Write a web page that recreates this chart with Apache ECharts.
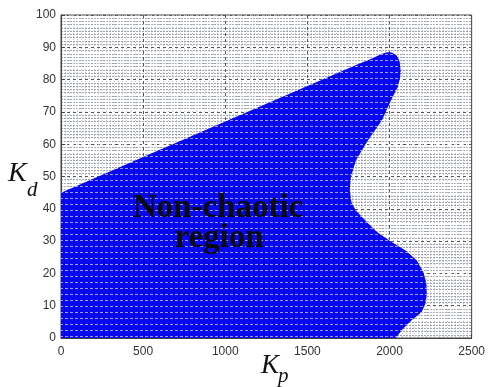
<!DOCTYPE html>
<html>
<head>
<meta charset="utf-8">
<script src="https://cdn.jsdelivr.net/npm/echarts@6/dist/echarts.min.js"></script>
<style>
  html, body { margin: 0; padding: 0; background: #fff; }
  #chart { width: 488px; height: 387px; }
</style>
</head>
<body>
<div id="chart"></div>
<script>
// boundary of the non-chaotic region
// upper-left edge, going from Kp = 0 to the tip
var upperKp = [0, 0, 500, 1000, 1500, 1800, 1900, 1950, 1985, 2015];
var upperKd = [0, 45, 56, 67, 78, 84.6, 86.7, 87.9, 88.5, 88.4];
// right edge, going from the tip down to Kd = 0
var rightKp = [2045, 2062, 2068, 2062, 2048, 2010, 1955, 1870, 1796, 1765, 1758, 1768, 1795, 1850, 1920, 1996, 2100, 2166, 2205, 2224, 2227, 2218, 2195, 2136, 2075, 2039];
var rightKd = [87.4, 85.5, 82.5, 80, 77.5, 73.7, 67.5, 61.3, 55, 50, 46, 42, 39.5, 36.5, 33, 30.3, 27, 24, 20.5, 17, 13.5, 10.5, 8, 5.6, 2.5, 0];

var xTicks = [0, 500, 1000, 1500, 2000, 2500];
var yTicks = [0, 10, 20, 30, 40, 50, 60, 70, 80, 90, 100];

var region = [];
for (var i = 0; i < upperKp.length; i++) region.push([upperKp[i], upperKd[i]]);
for (var j = 0; j < rightKp.length; j++) region.push([rightKp[j], rightKd[j]]);

// blue fill with faint light rows, like the scattered grid points
var pat = document.createElement('canvas');
pat.width = 5; pat.height = 6;
var ctx = pat.getContext('2d');
ctx.fillStyle = '#0808ee';
ctx.fillRect(0, 0, 5, 6);
ctx.fillStyle = 'rgba(170,170,255,0.9)';
ctx.fillRect(0, 0, 3, 1);

var myChart = echarts.init(document.getElementById('chart'));

var labelFont = { color: '#333', fontSize: 12, fontFamily: 'Liberation Sans, Arial, sans-serif' };

var option = {
    animation: false,
    grid: {
        left: 61, right: 14, top: 15, bottom: 49,
        show: true,
        backgroundColor: '#fff',
        borderColor: '#444',
        borderWidth: 1
    },
    xAxis: {
        type: 'value',
        min: xTicks[0],
        max: xTicks[xTicks.length - 1],
        interval: 500,
        axisLine: { show: true, lineStyle: { color: '#444' } },
        axisTick: { show: true, inside: true, length: 4, lineStyle: { color: '#444' } },
        axisLabel: Object.assign({ margin: 8, formatter: function (v) { return String(v); } }, labelFont),
        splitLine: { show: true, lineStyle: { color: '#555', type: [3, 3], width: 1 } },
        minorTick: { show: false, splitNumber: 20 },
        minorSplitLine: { show: true, lineStyle: { color: '#bfc2cf', type: [1, 2], width: 1 } }
    },
    yAxis: {
        type: 'value',
        min: yTicks[0],
        max: yTicks[yTicks.length - 1],
        interval: 10,
        axisLine: { show: true, lineStyle: { color: '#444' } },
        axisTick: { show: true, inside: true, length: 4, lineStyle: { color: '#444' } },
        axisLabel: Object.assign({ margin: 5 }, labelFont),
        splitLine: { show: true, lineStyle: { color: '#555', type: [3, 3], width: 1 } },
        minorTick: { show: false, splitNumber: 10 },
        minorSplitLine: { show: true, lineStyle: { color: '#9ea2b6', type: [2, 1], width: 1 } }
    },
    series: [{
        type: 'custom',
        clip: true,
        data: [[0, 0]],
        renderItem: function (params, api) {
            var pts = region.map(function (p) { return api.coord(p); });
            return {
                type: 'polygon',
                shape: { points: pts },
                style: { fill: { image: pat, repeat: 'repeat' }, stroke: null }
            };
        },
        z: 3
    }],
    graphic: [
        { type: 'text', left: 8, top: 160, z: 10,
          style: { text: 'K', font: 'italic 28px "Liberation Serif", serif', fill: '#111' } },
        { type: 'text', left: 27, top: 180, z: 10,
          style: { text: 'd', font: 'italic 21px "Liberation Serif", serif', fill: '#111' } },
        { type: 'text', left: 261, top: 352, z: 10,
          style: { text: 'K', font: 'italic 27px "Liberation Serif", serif', fill: '#111' } },
        { type: 'text', left: 278, top: 366, z: 10,
          style: { text: 'p', font: 'italic 21px "Liberation Serif", serif', fill: '#111' } },
        { type: 'text', z: 10,
          style: { text: 'Non-chaotic', x: 218, y: 208, textAlign: 'center', textVerticalAlign: 'middle',
                   font: 'bold 33px "Liberation Serif", serif', fill: '#0a0a0a' } },
        { type: 'text', z: 10,
          style: { text: 'region', x: 219, y: 238, textAlign: 'center', textVerticalAlign: 'middle',
                   font: 'bold 33px "Liberation Serif", serif', fill: '#0a0a0a' } }
    ]
};

myChart.setOption(option);
</script>
</body>
</html>
